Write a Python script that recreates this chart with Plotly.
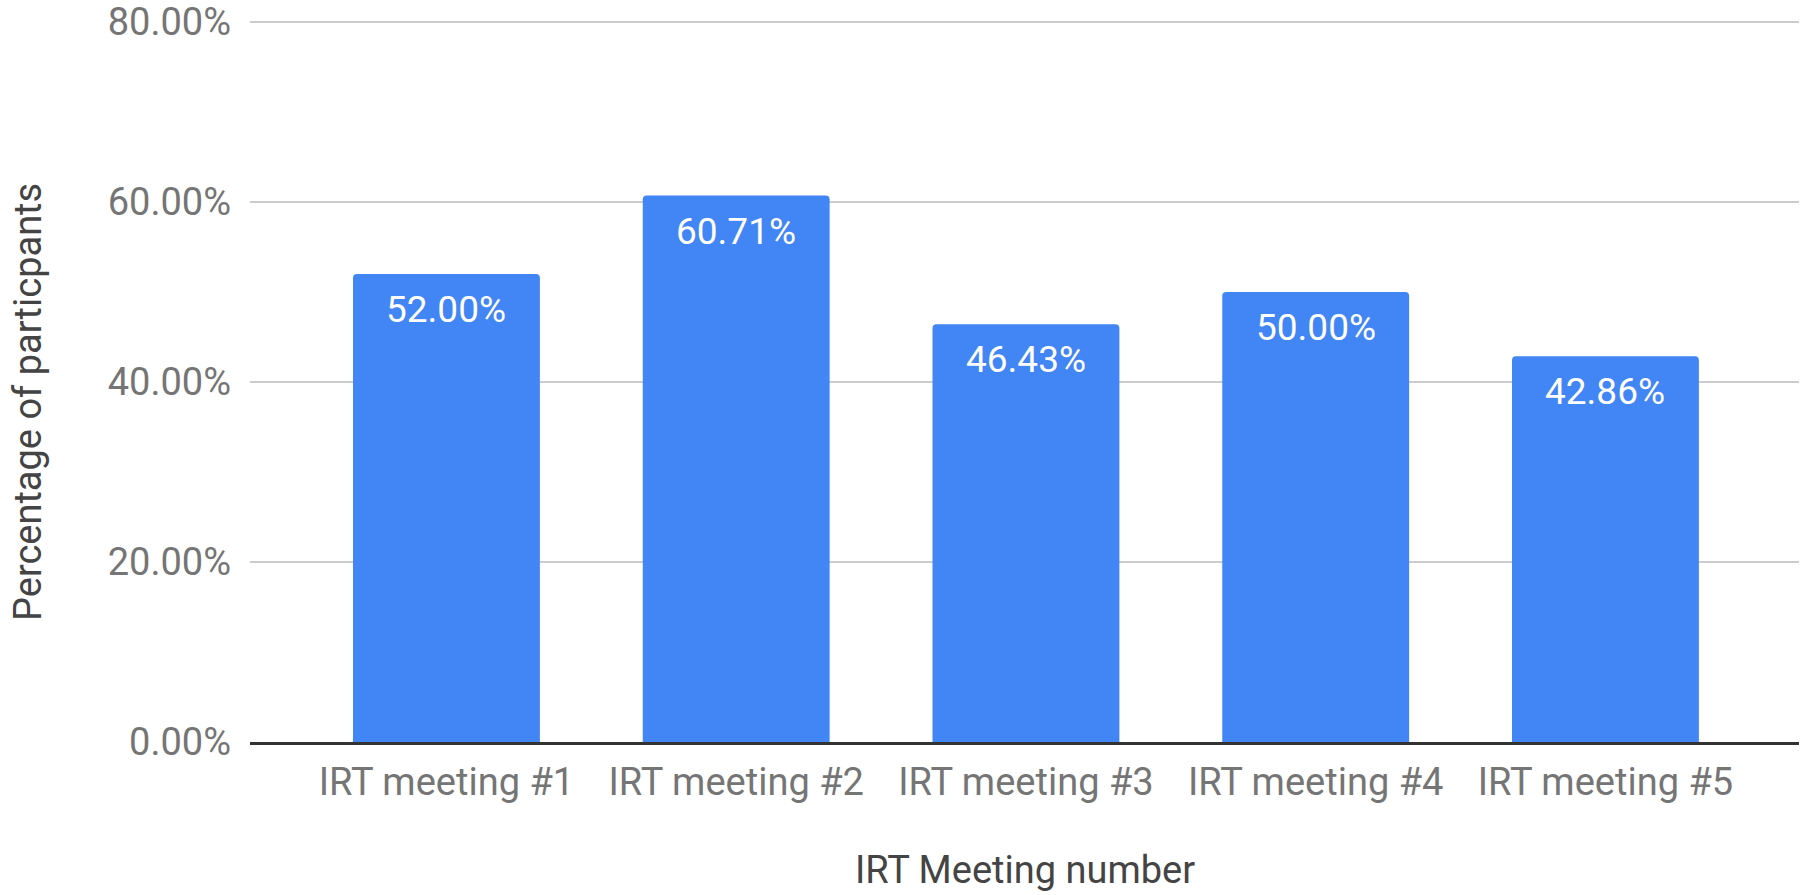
import plotly.graph_objects as go

categories = ["IRT meeting #1", "IRT meeting #2", "IRT meeting #3", "IRT meeting #4", "IRT meeting #5"]
values = [0.52, 0.6071, 0.4643, 0.50, 0.4286]
labels = ["52.00%", "60.71%", "46.43%", "50.00%", "42.86%"]
y_ticks = [0, 0.2, 0.4, 0.6, 0.8]
y_tick_text = ["0.00%", "20.00%", "40.00%", "60.00%", "80.00%"]

W, H = 1810, 895
L, R, T, B = 250, 11, 12, 153
PW, PH = W - L - R, H - T - B   # PH = 730; 0.8 maps to y=22
Y_TOP = 0.8 * PH / (742 - 22)

fig = go.Figure()
fig.add_trace(go.Bar(
    x=list(range(len(categories))), y=values,
    marker=dict(color="#4285F4", cornerradius=4, line=dict(width=0)),
    width=0.645, hoverinfo="skip",
))

for i, (v, t) in enumerate(zip(values, labels)):
    fig.add_annotation(x=i, y=v, text=t, showarrow=False, yanchor="top", yshift=-12,
                       font=dict(family="Roboto", size=37, color="white"))

fig.update_layout(
    width=W, height=H,
    margin=dict(l=L, r=R, t=T, b=B, autoexpand=False),
    paper_bgcolor="white", plot_bgcolor="white",
    showlegend=False,
    font=dict(family="Roboto", size=38, color="#757575"),
    xaxis=dict(
        range=[-0.678, 4.668], automargin=False,
        tickmode="array", tickvals=list(range(len(categories))), ticktext=categories,
        showgrid=False, zeroline=False,
        showline=True, linecolor="#333333", linewidth=2.5,
        ticks="", ticklabelstandoff=5,
        tickfont=dict(family="Roboto", size=38, color="#757575"),
    ),
    yaxis=dict(
        range=[0, Y_TOP], automargin=False,
        tickmode="array", tickvals=y_ticks, ticktext=y_tick_text,
        showgrid=True, gridcolor="#cccccc", gridwidth=2,
        zeroline=False, showline=False,
        ticks="", ticklabelstandoff=18,
        tickfont=dict(family="Roboto", size=38, color="#757575"),
    ),
)

# x-axis title
fig.add_annotation(
    text="IRT Meeting number", showarrow=False,
    xref="paper", yref="paper",
    x=0.5, y=-(870 - (T + PH)) / PH,
    xanchor="center", yanchor="middle",
    font=dict(family="Roboto", size=38, color="#444444"),
)

# y-axis title
fig.add_annotation(
    text="Percentage of particpants", textangle=-90, showarrow=False,
    xref="paper", yref="paper",
    x=(28 - L) / PW, y=1 - (402 - T) / PH,
    xanchor="center", yanchor="middle",
    font=dict(family="Roboto", size=38, color="#444444"),
)

fig.write_html("out.html", config={"displayModeBar": False},
               post_script="document.body.style.margin='0';document.body.style.overflow='hidden';")
